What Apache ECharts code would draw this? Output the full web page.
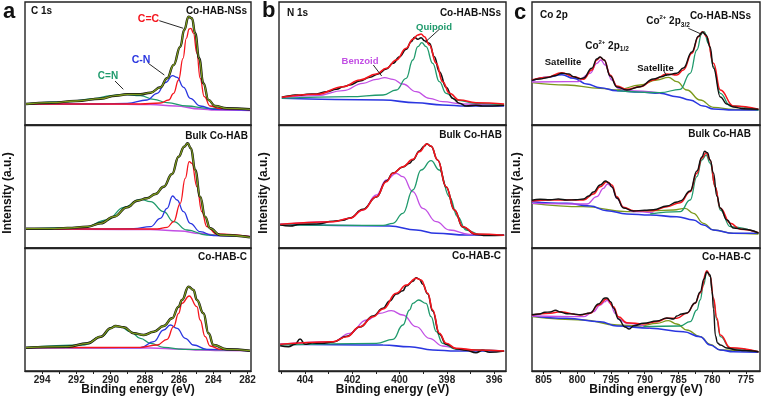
<!DOCTYPE html>
<html>
<head>
<meta charset="utf-8">
<script src="https://cdn.jsdelivr.net/npm/echarts@6/dist/echarts.min.js"></script>
<style>
  html, body { margin: 0; padding: 0; background: #fff; }
  #main { width: 761px; height: 401px; }
</style>
</head>
<body>
<div id="main"></div>
<script>
// x ticks / labels of each column
var aTicks = [282, 283, 284, 285, 286, 287, 288, 289, 290, 291, 292, 293, 294];
var aLabels = [282, 284, 286, 288, 290, 292, 294];
var bTicks = [396, 397, 398, 399, 400, 401, 402, 403, 404, 405];
var bLabels = [396, 398, 400, 402, 404];
var cTicks = [775, 777.5, 780, 782.5, 785, 787.5, 790, 792.5, 795, 797.5, 800, 802.5, 805];
var cLabels = [775, 780, 785, 790, 795, 800, 805];

// ---- C 1s, Co-HAB-NSs
var a1Base = [[294.94,21],[290.58,21],[287.67,20.5],[286.22,19],[284.77,16],[283.9,15],[281.86,14.5]];
var a1Sum = [[294.94,21],[293.49,22.3],[292.03,24],[290.58,26.3],[289.71,29.3],[289.03,30.7],[288.26,30.7],[287.67,32.3],[287.09,37.7],[286.7,46.7],[286.32,60],[285.93,78.3],[285.7,95],[285.45,108.3],[285.25,106.7],[285.06,91.7],[284.83,66.7],[284.58,41.7],[284.28,25],[283.9,19],[283.22,16.7],[281.86,15.7]];
var a1CC = [[294.94,21],[290.58,21],[288.26,21],[287.09,22],[286.61,25],[286.32,31.7],[286.03,45],[285.77,66.7],[285.58,86.7],[285.41,96],[285.31,96.7],[285.16,91.7],[284.96,71.7],[284.77,46.7],[284.53,28.3],[284.19,19],[283.6,16.3],[281.86,15.3]];
var a1CN = [[294.94,21],[290.58,21],[289.03,21.7],[287.87,25],[287.28,31.7],[286.8,42.3],[286.38,49.3],[286.12,47.7],[285.74,37.7],[285.35,26.7],[284.77,19],[283.99,15.7],[281.86,15]];
var a1CNd = [[294.94,21],[292.52,23.3],[290.97,26.3],[290.0,29.3],[289.23,30.7],[288.26,29.3],[287.48,25.7],[286.7,22.3],[285.54,19],[284.38,16.7],[281.86,15.7]];

// ---- C 1s, Bulk Co-HAB
var a2Base = [[294.94,19],[287.67,18.5],[285.93,17],[284.77,14.5],[283.6,12.5],[281.86,11.5]];
var a2Sum = [[294.94,19.3],[293.49,19.3],[292.52,20],[291.35,21.3],[290.58,24.7],[289.81,31.3],[289.03,40.7],[288.45,47.3],[287.87,49.7],[287.38,54],[286.9,61.3],[286.41,74],[286.03,91.3],[285.7,101.3],[285.5,104.7],[285.31,99.7],[285.06,78],[284.77,51.3],[284.48,31.3],[284.19,19.7],[283.6,13],[281.86,10.7]];
var a2CC = [[294.94,19],[290.58,19],[287.28,19],[286.7,20.7],[286.32,26.3],[285.93,44.7],[285.64,69.7],[285.41,86.3],[285.25,84.7],[284.96,61.3],[284.67,36.3],[284.38,21.3],[283.8,14],[281.86,11.3]];
var a2CN = [[294.94,19],[290.58,19],[288.65,19.3],[287.67,21.3],[287.09,29.7],[286.7,39.7],[286.38,52],[286.12,48],[285.74,36.3],[285.35,24.7],[284.77,16.3],[283.99,12.3],[281.86,11.3]];
var a2CNd = [[294.94,19],[291.55,20.7],[290.19,28],[289.23,40.7],[288.26,48.7],[287.67,46.3],[286.9,36.3],[286.32,26.3],[285.54,18],[284.38,13],[281.86,11.3]];

// ---- C 1s, Co-HAB-C
var a3Base = [[294.94,23.3],[287.67,23],[285.93,22],[284.77,21],[283.6,20.5],[281.86,20.3]];
var a3Sum = [[294.94,23.3],[292.52,24.3],[291.35,27.7],[290.58,34.3],[290.0,42.7],[289.71,45],[289.23,43.7],[288.65,37.7],[288.06,36],[287.48,39.3],[286.9,45],[286.41,52.7],[286.03,64.3],[285.83,71],[285.45,84.3],[285.16,81],[284.96,71],[284.58,57.7],[284.28,37.7],[283.99,26],[283.22,21.7],[281.86,20.3]];
var a3CC = [[294.94,23.3],[290.58,23.5],[288.26,23.7],[287.28,26],[286.7,31.7],[286.32,44.3],[286.03,57.7],[285.83,67.7],[285.41,75],[284.96,64.3],[284.77,51],[284.48,34.3],[284.19,25],[283.6,21.7],[281.86,20.3]];
var a3CN = [[294.94,23.3],[290.58,23.3],[288.26,23.3],[287.48,29.3],[286.9,41],[286.51,46],[286.12,42.7],[285.64,32.7],[285.16,26],[284.38,21.7],[281.86,20.3]];
var a3CNd = [[294.94,23.3],[291.55,26],[290.58,34.3],[289.81,44.3],[289.42,44.3],[288.84,39.3],[288.26,32.7],[287.67,27.7],[286.9,23.7],[285.74,21.7],[281.86,20.3]];

// ---- N 1s, Co-HAB-NSs
var b1Base = [[404.98,26.7],[400.7,25],[399.3,22.3],[398.18,20],[397.19,19],[395.58,19]];
var b1Fit = [[404.98,27.7],[403.51,30.7],[402.39,38.3],[401.68,45],[400.98,51],[400.56,56.7],[400.14,65],[399.72,76.7],[399.44,85.7],[399.23,90],[399.09,91],[398.95,88.3],[398.74,80],[398.45,61.7],[398.18,43.3],[397.89,31.7],[397.47,25],[396.77,22.3],[395.58,21]];
var b1Data = [[404.98,27.7],[404.63,29.3],[404.42,30],[404.21,29.7],[403.93,30.7],[403.51,31],[403.09,33.3],[402.67,35.7],[402.39,38.3],[402.11,40],[401.68,44],[401.26,47.7],[400.91,51],[400.56,56],[400.28,61.7],[400.0,68.3],[399.72,75.7],[399.51,83.3],[399.37,87.7],[399.23,85.7],[399.09,87.3],[398.95,84.3],[398.74,81.7],[398.53,68.3],[398.32,53.3],[398.03,37.7],[397.76,26.7],[397.47,21.7],[397.19,19],[396.77,19.7],[396.49,19],[396.07,19],[395.58,19.7]];
var b1Quin = [[404.98,26.7],[402.11,28.3],[400.7,30],[400.14,35],[399.72,46.7],[399.44,65],[399.23,78.3],[399.06,82.3],[398.88,78.3],[398.6,61.7],[398.32,43.3],[398.03,31.7],[397.61,25],[396.77,21.7],[395.58,20]];
var b1Benz = [[404.98,27],[403.51,29.3],[402.39,34.3],[401.55,41.7],[400.98,45.7],[400.63,47.3],[400.28,45.7],[399.86,41],[399.3,33.3],[398.74,26.7],[398.18,23.3],[397.33,21],[395.58,19.7]];

// ---- N 1s, Bulk Co-HAB
var b2Base = [[405.05,23.7],[400.42,22],[399.3,18],[398.45,14.7],[397.19,13],[395.58,13]];
var b2Fit = [[405.05,23.7],[402.81,26.3],[402.11,29.7],[401.55,38],[400.98,51.3],[400.56,66.3],[400.28,74.7],[399.86,81.3],[399.44,88.7],[399.16,96.3],[398.85,104],[398.67,102],[398.39,88],[398.03,61.3],[397.68,38],[397.33,21.3],[396.77,14],[395.58,12.7]];
var b2Data = [[405.05,23.3],[404.63,22],[404.21,23.7],[403.51,24],[402.81,26.7],[402.39,27.7],[402.11,30],[401.55,38.7],[400.98,51],[400.56,67],[400.28,75],[399.86,81],[399.58,84.7],[399.44,88],[399.16,97],[398.95,102],[398.85,104.3],[398.67,101.7],[398.39,88],[398.03,61],[397.68,38],[397.33,21],[396.77,13.5],[396.35,12.5],[395.58,12.7]];
var b2Benz = [[405.05,23],[402.81,26.3],[402.11,29.7],[401.55,38],[400.98,53],[400.56,68],[400.14,74.7],[399.86,71.3],[399.44,56.3],[399.02,39.7],[398.45,26.3],[397.89,18],[397.05,13.7],[395.58,12.7]];
var b2Quin = [[405.05,23],[400.7,22.7],[400.28,24.7],[399.86,34.7],[399.44,58],[399.09,78],[398.67,87.3],[398.32,78],[397.89,51.3],[397.55,31.3],[397.19,18],[396.63,13.7],[395.58,12.7]];

// ---- N 1s, Co-HAB-C
var b3Base = [[405.05,26.7],[400.7,26],[399.58,24.3],[398.6,21],[397.61,20],[395.58,20]];
var b3Fit = [[405.05,26.7],[402.81,29.3],[402.24,34.3],[401.68,44.3],[401.12,54.3],[400.7,62],[400.14,77.7],[399.72,86],[399.3,92.7],[399.09,91],[398.81,77.7],[398.6,61],[398.32,37.7],[398.03,27.7],[397.61,22.7],[396.77,21],[395.58,20]];
var b3Data = [[405.05,25.3],[404.7,24.3],[404.42,26.7],[404.21,32],[404.0,26.7],[403.7,28],[403.3,27.7],[402.81,29],[402.24,34.7],[401.68,44],[401.12,55],[400.7,62.7],[400.42,70],[400.14,77],[399.86,80.3],[399.72,85],[399.44,89.7],[399.3,93.3],[399.16,91.7],[399.02,86.7],[398.81,77],[398.6,60],[398.32,37],[398.03,26.7],[397.61,22.3],[397.19,20.7],[396.77,18.3],[396.49,20.7],[396.2,18.7],[395.58,20]];
var b3Benz = [[405.05,26.7],[402.81,29.3],[402.11,37.7],[401.4,51],[400.84,57.7],[400.35,60.3],[399.86,56],[399.3,44.3],[398.74,32.7],[398.18,25],[397.33,21],[395.58,20]];
var b3Quin = [[405.05,26],[400.98,27.7],[400.28,31.7],[399.86,46],[399.58,61],[399.44,67.7],[399.19,71],[398.88,67.7],[398.67,54.3],[398.45,39.3],[398.18,27.7],[397.61,21.7],[395.58,20]];

// ---- Co 2p, Co-HAB-NSs
var c1Base = [[806.72,44],[804.5,47.7],[802.27,50.3],[800.55,46.7],[798.57,41],[796.6,37.3],[794.12,34.3],[790.67,33],[787.7,31.7],[785.23,28.3],[783.3,25],[781.29,19],[779.8,16],[776.84,15],[773.13,15]];
var c1Sat = [[806.72,42.3],[801.53,40],[796.6,36.7],[794.12,35],[790.67,40],[788.19,45],[786.47,47.7],[785.23,43.3],[783.75,35],[781.77,25],[779.8,17.7],[776.84,15.7],[773.13,15]];
var c1P12 = [[806.72,43],[800.05,43.3],[798.08,51.7],[797.09,61.7],[796.49,65],[795.86,60],[794.86,45],[793.88,36.7],[792.64,34.3],[787.7,32]];
var c1P32 = [[794.12,34.3],[787.7,32.3],[784.73,35.7],[783.25,51.7],[782.26,75],[781.52,91.7],[781.18,93.3],[780.54,81.7],[779.8,58.3],[778.78,31.7],[777.3,19],[773.13,15]];
var c1Fit = [[806.72,45],[804.5,47.7],[802.27,52.3],[800.55,48.3],[799.07,45.7],[797.83,55],[797.09,65],[796.6,67.7],[796.0,65],[795.11,50],[794.12,39],[792.64,35.7],[790.67,38.3],[788.7,45],[786.71,51],[785.23,50],[784.25,55],[783.0,71.7],[782.03,88.3],[781.43,93.3],[780.78,88.3],[779.8,61.7],[778.78,35],[776.84,19],[773.13,15.7]];
var c1Data = [[806.72,44.7],[805.5,46],[804.5,47.3],[803.3,49.3],[802.27,51.7],[801.2,51],[800.55,48.3],[799.6,46.3],[799.07,47],[797.83,56.7],[797.09,66],[796.6,68],[796.0,65],[795.11,49],[794.12,38],[792.64,35],[790.67,38.3],[788.7,46],[787.5,48.3],[786.71,50],[785.23,51.7],[784.25,57],[783.0,73],[782.03,88.7],[781.43,93],[780.9,90],[780.3,78],[779.8,57],[778.78,28],[777.8,21],[776.84,18],[775.3,16.3],[773.13,15.7]];

// ---- Co 2p, Bulk Co-HAB
var c2Base = [[806.72,46.3],[801.53,44.7],[798.08,42],[795.6,37.3],[792.64,34],[789.18,33],[785.23,31.3],[782.77,28],[781.29,23],[779.8,18],[776.84,14.7],[773.13,14.7]];
var c2Sat = [[806.72,44.7],[799.07,41.3],[792.64,36.3],[788.7,37.3],[785.73,38],[784.0,39.7],[782.77,34.7],[781.29,24.7],[779.8,18],[776.84,14.7],[773.13,14]];
var c2P12 = [[806.72,44.7],[798.57,44],[797.09,51.3],[796.11,59.7],[795.51,64],[794.86,61.3],[794.12,49.7],[793.14,40.7],[791.66,36.3],[788.7,35]];
var c2P32 = [[789.18,34],[784.73,36.3],[783.25,48],[782.26,71.3],[781.52,88],[780.88,93],[780.29,84.7],[779.55,61.3],[778.78,38],[777.3,21.3],[773.13,14.7]];
var c2Fit = [[806.72,47],[804.01,48],[801.53,48],[799.07,48],[797.59,54],[796.6,61.3],[795.6,66.3],[794.86,63],[794.12,51.3],[793.14,40.7],[791.66,37.3],[788.7,37.3],[786.71,41.3],[784.73,45.3],[783.25,56.3],[782.26,74.7],[781.52,89.7],[780.88,95.3],[780.29,88],[779.55,61.3],[778.78,39.7],[777.3,24.7],[775.82,18.7],[773.13,15.3]];
var c2Data = [[806.72,47.7],[805.5,48.7],[804.01,48.3],[802.8,49],[801.53,48],[800.2,48.3],[799.07,49],[798.3,52],[797.59,56],[796.6,63],[795.8,67],[795.3,65],[794.86,61],[794.12,50],[793.14,40],[791.66,37],[790.0,37.7],[788.7,38.3],[786.71,42],[785.2,46],[784.73,47],[783.25,57],[782.26,77],[781.52,91],[781.1,96.7],[780.7,95.3],[780.29,88],[779.8,75],[779.3,52],[778.78,40],[777.8,28],[776.84,20],[775.3,18.7],[773.13,15]];

// ---- Co 2p, Co-HAB-C
var c3Base = [[806.72,55.3],[801.53,52.7],[796.6,49.3],[794.12,45],[789.18,42.7],[784.25,39.3],[781.77,34.3],[780.29,26],[778.78,21],[776.84,19.3],[773.13,18.7]];
var c3Sat = [[806.72,54.3],[799.07,51],[794.12,46],[790.67,45],[788.19,47.7],[786.47,50.3],[785.23,47],[783.75,41],[781.77,34.3],[780.29,26.7],[778.78,21],[773.13,18.7]];
var c3P12 = [[806.72,55],[799.07,54.3],[797.59,59.3],[796.6,66],[795.86,69.3],[795.6,71],[795.11,67.7],[794.36,57.7],[793.63,51],[792.64,47.7],[789.18,43]];
var c3P32 = [[790.18,44.3],[784.73,45],[783.25,49.3],[782.26,61],[781.77,71],[781.28,86],[780.78,99.3],[780.29,94.3],[779.8,71],[779.3,51],[778.78,34.3],[777.3,22.7],[773.13,19.3]];
var c3Fit = [[806.72,56],[804.01,57.7],[802.53,59.3],[799.56,56],[798.08,57.7],[796.85,66],[795.6,72.3],[794.63,64.3],[793.88,54.3],[792.64,48.3],[790.18,47],[788.19,49.3],[786.71,52.7],[785.23,52.7],[783.75,57.7],[782.52,67.7],[781.77,78],[780.78,100.3],[780.29,95],[779.8,73],[779.3,53],[778.78,36],[777.3,23.3],[773.13,19.3]];
var c3Data = [[806.72,56.3],[805.6,57],[804.8,58.7],[804.01,59],[803.2,60.7],[802.53,59],[801.5,57.3],[800.5,57],[799.56,56.3],[798.08,58],[796.85,67],[795.9,73],[795.6,73],[795.0,69],[794.63,63],[793.88,52],[792.9,44],[792.3,42],[791.6,45.3],[790.18,47.7],[788.19,50],[786.71,53],[785.7,52],[785.23,55],[784.5,57],[783.75,58],[782.52,68],[781.77,79],[781.2,92],[780.78,99],[780.29,96],[780.0,80],[779.8,62],[779.5,35],[779.2,28],[778.78,26],[777.8,23],[776.3,21],[775.3,20.5],[774.5,20.3],[773.13,19.3]];

var FONT = '"Liberation Sans", Arial, sans-serif';
var RED = '#f5141c', OLIVE = '#7c9a1c', BLUE = '#2a36e0', TEAL = '#1f9a6c', PURPLE = '#c24fe4', BLACK = '#111';

var myChart = echarts.init(document.getElementById('main'));

var cols = [
    {left: 25, width: 226, min: 281.8, max: 295, ticks: aTicks, labels: aLabels},
    {left: 279, width: 227, min: 395.5, max: 405.1, ticks: bTicks, labels: bLabels},
    {left: 532, width: 228, min: 772.9, max: 806.7, ticks: cTicks, labels: cLabels}
];
var rowTops = [2, 125, 248];
var H = 123;

// curves of each panel, drawn in this order
var panels = [
    [[a1Base, PURPLE, 1.5], [a1CNd, TEAL, 1.3], [a1CN, BLUE, 1.3], [a1CC, RED, 1.3], [a1Sum, BLACK, 2.4], [a1Sum, OLIVE, 1.3]],
    [[a2Base, PURPLE, 1.5], [a2CNd, TEAL, 1.3], [a2CN, BLUE, 1.3], [a2CC, RED, 1.3], [a2Sum, BLACK, 2.4], [a2Sum, OLIVE, 1.3]],
    [[a3Base, PURPLE, 1.5], [a3CNd, TEAL, 1.3], [a3CN, BLUE, 1.3], [a3CC, RED, 1.3], [a3Sum, BLACK, 2.4], [a3Sum, OLIVE, 1.3]],
    [[b1Base, BLUE, 1.6], [b1Benz, PURPLE, 1.3], [b1Quin, TEAL, 1.3], [b1Data, BLACK, 1.6], [b1Fit, RED, 1.6]],
    [[b2Base, BLUE, 1.6], [b2Benz, PURPLE, 1.3], [b2Quin, TEAL, 1.3], [b2Data, BLACK, 1.6], [b2Fit, RED, 1.6]],
    [[b3Base, BLUE, 1.6], [b3Benz, PURPLE, 1.3], [b3Quin, TEAL, 1.3], [b3Data, BLACK, 1.6], [b3Fit, RED, 1.6]],
    [[c1Sat, OLIVE, 1.3], [c1Base, BLUE, 1.6], [c1P12, PURPLE, 1.3], [c1P32, TEAL, 1.3], [c1Fit, RED, 1.5], [c1Data, BLACK, 1.4]],
    [[c2Sat, OLIVE, 1.3], [c2Base, BLUE, 1.6], [c2P12, PURPLE, 1.3], [c2P32, TEAL, 1.3], [c2Fit, RED, 1.5], [c2Data, BLACK, 1.4]],
    [[c3Sat, OLIVE, 1.3], [c3Base, BLUE, 1.6], [c3P12, PURPLE, 1.3], [c3P32, TEAL, 1.3], [c3Fit, RED, 1.5], [c3Data, BLACK, 1.4]]
];

var grids = [], xAxes = [], yAxes = [], series = [];
for (var c = 0; c < 3; c++) {
    for (var r = 0; r < 3; r++) {
        var i = c * 3 + r;
        var col = cols[c];
        var bottom = (r == 2);
        grids.push({left: col.left, top: rowTops[r], width: col.width, height: H,
            show: true, borderColor: '#222', borderWidth: 1.4, backgroundColor: 'transparent'});
        xAxes.push({
            gridIndex: i, type: 'value', inverse: true, min: col.min, max: col.max,
            axisLine: {show: true, lineStyle: {color: '#222', width: 1.4}},
            axisTick: {show: bottom, inside: false, length: 3, customValues: col.ticks, lineStyle: {color: '#222', width: 1}},
            axisLabel: {show: bottom, customValues: col.labels, margin: 4, fontSize: 10, fontWeight: 'bold', color: '#222', fontFamily: FONT},
            splitLine: {show: false}
        });
        yAxes.push({gridIndex: i, type: 'value', min: 0, max: H, show: false});
        panels[i].forEach(function (p, k) {
            series.push({
                type: 'line', xAxisIndex: i, yAxisIndex: i, data: p[0],
                smooth: 0.45, smoothMonotone: 'x', showSymbol: false, silent: true,
                lineStyle: {color: p[1], width: p[2]}, z: 2 + k
            });
        });
    }
}

function txt(s, x, y, size, color, align, rot) {
    return {type: 'text', x: x, y: y, rotation: rot || 0, z: 100,
        style: {text: s, fill: color || '#111', font: 'bold ' + size + 'px ' + FONT,
            textAlign: align || 'center', textVerticalAlign: 'middle'}};
}
function seg(x1, y1, x2, y2) {
    return {type: 'line', z: 100, shape: {x1: x1, y1: y1, x2: x2, y2: y2}, style: {stroke: '#111', lineWidth: 0.9}};
}
function coLabel(sub, x, y) {
    return {type: 'text', x: x, y: y, z: 100,
        style: {text: '{m|Co}{u|2+}{m| 2p}{d|' + sub + '}', textAlign: 'center', textVerticalAlign: 'middle', fill: '#111',
            rich: {
                m: {fontSize: 10, fontWeight: 'bold', fontFamily: FONT, lineHeight: 14, fill: '#111'},
                u: {fontSize: 6, fontWeight: 'bold', fontFamily: FONT, verticalAlign: 'top', fill: '#111'},
                d: {fontSize: 6.5, fontWeight: 'bold', fontFamily: FONT, verticalAlign: 'bottom', fill: '#111'}
            }}};
}

var graphics = [
    txt('a', 3, 12, 22, '#111', 'left'),
    txt('b', 262, 11, 22, '#111', 'left'),
    txt('c', 514, 13, 22, '#111', 'left'),
    txt('C 1s', 31, 11.5, 10, '#111', 'left'),
    txt('N 1s', 287, 13.5, 10, '#111', 'left'),
    txt('Co 2p', 540, 15, 10, '#111', 'left'),
    txt('Co-HAB-NSs', 247, 11.5, 10, '#111', 'right'),
    txt('Bulk Co-HAB', 248, 136, 10, '#111', 'right'),
    txt('Co-HAB-C', 247, 257, 10, '#111', 'right'),
    txt('Co-HAB-NSs', 501, 13.5, 10, '#111', 'right'),
    txt('Bulk Co-HAB', 502, 135, 10, '#111', 'right'),
    txt('Co-HAB-C', 501, 256, 10, '#111', 'right'),
    txt('Co-HAB-NSs', 751, 16, 10, '#111', 'right'),
    txt('Bulk Co-HAB', 751, 134, 10, '#111', 'right'),
    txt('Co-HAB-C', 751, 257, 10, '#111', 'right'),
    txt('C=C', 148.5, 19, 10.5, RED),
    txt('C-N', 141, 60, 10.5, BLUE),
    txt('C=N', 108, 76.5, 10, TEAL),
    txt('Benzoid', 360, 61.5, 9.5, PURPLE),
    txt('Quipoid', 434, 27, 9.5, TEAL),
    txt('Satellite', 563, 62, 9.5),
    txt('Satellite', 655.5, 68, 9.5),
    coLabel('1/2', 607, 46),
    coLabel('3/2', 668, 21.5),
    seg(159.3, 20.7, 183.3, 28.3),
    seg(148.3, 63.3, 164.3, 75),
    seg(115, 81, 123.3, 89.3),
    seg(373.3, 65, 381.7, 76),
    seg(439.3, 29.3, 425, 42.3),
    seg(663.3, 70, 666.7, 76),
    seg(688.3, 28.3, 701.7, 34.3),
    txt('Intensity (a.u.)', 8, 193, 12, '#111', 'center', Math.PI / 2),
    txt('Intensity (a.u.)', 264, 193, 12, '#111', 'center', Math.PI / 2),
    txt('Intensity (a.u.)', 517, 193, 12, '#111', 'center', Math.PI / 2),
    txt('Binding energy (eV)', 138, 390, 12),
    txt('Binding energy (eV)', 392.5, 390, 12),
    txt('Binding energy (eV)', 646, 390, 12)
];

var option = {
    animation: false,
    backgroundColor: '#fff',
    grid: grids,
    xAxis: xAxes,
    yAxis: yAxes,
    series: series,
    graphic: graphics
};
myChart.setOption(option);
</script>
</body>
</html>
